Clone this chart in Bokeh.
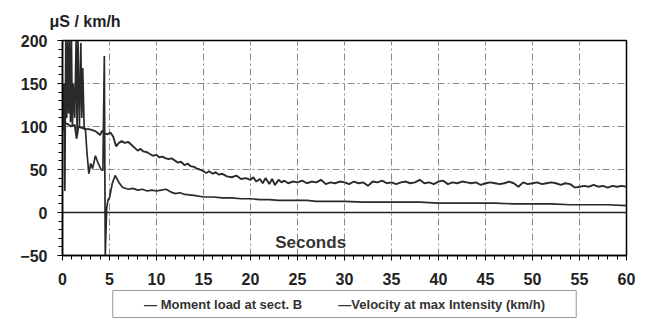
from bokeh.plotting import figure
from bokeh.models import (Label, Span, FixedTicker, Range1d, Title)
from bokeh.embed import file_html
from bokeh.resources import INLINE

# Moment load at sect. B
t_moment = [0.0, 0.15, 0.25, 0.35, 0.45, 0.55, 0.65, 0.75, 0.85, 0.95, 1.05, 1.15, 1.3, 1.45, 1.55,
            1.65, 1.8, 1.95, 2.05, 2.15, 2.3, 2.45, 2.6, 2.8, 3.0, 3.2, 3.5, 3.8, 4.1, 4.3, 4.45,
            4.55, 4.7, 4.85, 5.0, 5.3, 5.6, 6.0, 6.4, 7.0, 7.5, 8.0, 8.5, 9.0, 9.5, 10, 10.5, 11,
            11.5, 12, 12.5, 13, 14, 15, 16, 17, 18, 19, 20, 21, 22, 23, 24, 25, 26, 27, 28, 30,
            32, 34, 36, 38, 40, 42, 44, 46, 48, 50, 52, 54, 56, 58, 60]
moment = [95, 150, 25, 200, 110, 200, 115, 200, 105, 200, 100, 150, 110, 200, 95,
          200, 100, 197, 110, 168, 100, 95, 70, 45, 57, 51, 66, 57, 50, 49, 182,
          -50, 5, 15, 17, 34, 43, 35, 29, 27, 28, 26, 27, 25, 26, 25, 26, 27,
          24, 22, 23, 21, 20, 18, 18, 17, 17, 16, 16, 15, 15, 14, 14, 14, 14, 13, 13, 13,
          12, 12, 12, 12, 11, 11, 11, 11, 10, 10, 10, 9, 9, 9, 8]

# Velocity at max Intensity (km/h)
t_velocity = [0.1, 0.3, 0.5, 0.7, 0.9, 1.1, 1.3, 1.5, 1.7, 1.9, 2.2, 2.5, 2.8, 3.1, 3.4, 3.7, 4.0,
              4.2, 4.5, 4.8, 5.1, 5.4, 5.7, 6.0, 6.3, 6.6, 7.0, 7.3, 7.6, 8.0, 8.3, 8.6, 9.0,
              9.3, 9.6, 10, 10.3, 10.6, 11, 11.3, 11.6, 12, 12.3, 12.6, 13, 13.3, 13.6, 14,
              14.3, 14.6, 15, 15.3, 15.6, 16, 16.3, 16.6, 17, 17.5, 18, 18.5, 19, 19.5, 20,
              20.3, 20.6, 21, 21.3, 21.6, 22, 22.3, 22.6, 23, 23.3, 23.6, 24, 24.5, 25, 25.5,
              26, 26.5, 27, 27.5, 28, 28.5, 29, 29.5, 30, 30.5, 31, 31.5, 32, 32.5, 33, 33.5,
              34, 34.5, 35, 35.5, 36, 36.5, 37, 37.5, 38, 38.5, 39, 39.5, 40, 40.5, 41, 41.5,
              42, 42.5, 43, 43.5, 44, 44.5, 45, 45.5, 46, 46.5, 47, 47.5, 48, 48.5, 49, 49.5,
              50, 50.5, 51, 51.5, 52, 52.5, 53, 53.5, 54, 54.5, 55, 55.5, 56, 56.5, 57, 57.5,
              58, 58.5, 59, 59.5, 60]
velocity = [105, 104, 103, 102, 100, 101, 102, 86, 100, 99, 98, 97, 97, 96, 95, 93, 90,
            95, 92, 91, 93, 88, 77, 81, 83, 81, 82, 79, 76, 72, 74, 71, 70,
            68, 66, 67, 64, 65, 63, 62, 63, 60, 58, 59, 55, 57, 54, 53,
            51, 50, 48, 46, 48, 45, 47, 44, 45, 42, 41, 43, 39, 40, 38,
            41, 36, 39, 34, 40, 33, 39, 32, 38, 35, 37, 34, 36, 35, 37,
            34, 36, 35, 38, 33, 35, 34, 36, 35, 33, 36, 34, 35, 31, 36, 35,
            37, 34, 35, 33, 35, 36, 34, 35, 38, 34, 35, 33, 36, 37, 33, 35,
            34, 36, 35, 34, 35, 32, 34, 35, 34, 33, 34, 36, 34, 30, 35, 33,
            34, 35, 33, 34, 35, 34, 32, 34, 33, 29, 30, 31, 30, 32, 30, 31,
            29, 31, 30, 31, 30]

series_labels = ["Moment load at sect. B", "Velocity at max Intensity (km/h)"]
x_ticks = [0, 5, 10, 15, 20, 25, 30, 35, 40, 45, 50, 55, 60]
y_ticks = [-50, 0, 50, 100, 150, 200]

FONT = "Liberation Sans"

p = figure(frame_width=564, frame_height=215, output_backend="svg", toolbar_location=None,
           x_range=Range1d(0, 60), y_range=Range1d(-50, 200),
           min_border_left=62, min_border_right=16, min_border_top=40, min_border_bottom=0)

p.outline_line_color = "black"
p.outline_line_width = 1.5
p.background_fill_color = "white"

for ax in (p.xaxis[0], p.yaxis[0]):
    ax.axis_line_color = "black"
    ax.axis_line_width = 1.5
    ax.major_tick_line_color = "black"
    ax.minor_tick_line_color = "black"
    ax.major_tick_out = 5
    ax.major_tick_in = 0
    ax.minor_tick_out = 4
    ax.minor_tick_in = 0
    ax.major_label_text_font = FONT
    ax.major_label_text_font_style = "bold"
    ax.major_label_text_font_size = "16px"
    ax.major_label_text_color = "#222222"

p.xaxis.ticker = FixedTicker(ticks=x_ticks, minor_ticks=list(range(0, 61)))
p.yaxis.ticker = FixedTicker(ticks=y_ticks, minor_ticks=list(range(-50, 201, 10)))
p.xaxis.major_label_standoff = 12
p.yaxis.major_label_standoff = 10

p.xgrid.ticker = FixedTicker(ticks=x_ticks)
p.ygrid.ticker = FixedTicker(ticks=y_ticks)
for g in (p.xgrid[0], p.ygrid[0]):
    g.grid_line_color = "#8a8a8a"
    g.grid_line_dash = "7 3 2 3"
    g.grid_line_width = 1

p.add_layout(Span(location=0, dimension="width", line_color="#222222", line_width=1.5))

p.line(t_moment, moment, line_color="#2a2a2a", line_width=1.7)
p.line(t_velocity, velocity, line_color="#2a2a2a", line_width=1.9)

p.add_layout(Title(text="\u03bcS / km/h", text_font=FONT, align="left", offset=-13,
                   text_font_style="bold", text_font_size="16px", text_color="#222222",
                   standoff=21), "above")
p.add_layout(Label(x=26.4, y=-35, text="Seconds", text_font=FONT,
                   text_font_style="bold", text_font_size="17px", text_color="#333333",
                   text_align="center", text_baseline="middle"))

# legend line (swatches drawn as dash characters, as in the original)
NB = "\u00a0"
legend_text = (NB * 7 + "\u2014 " + series_labels[0] + NB * 10 + "\u2014" + series_labels[1] + NB * 7)
p.add_layout(Title(text=legend_text, text_font=FONT, align="center",
                   text_font_style="bold", text_font_size="13px", text_color="#333333",
                   standoff=2, padding=6, border_line_color="#999999", border_line_width=1,
                   background_fill_color="white"), "below")

open("out.html", "w").write(file_html(p, INLINE))
